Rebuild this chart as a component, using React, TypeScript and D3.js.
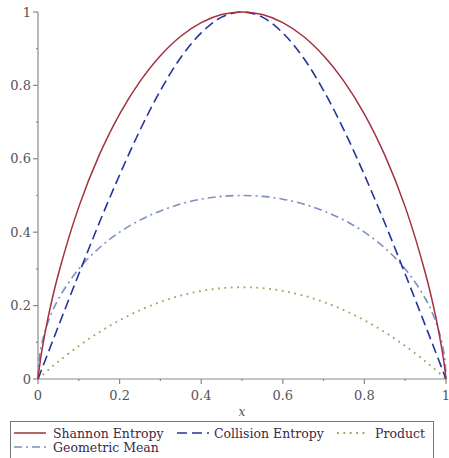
import React from "react";
import * as d3 from "d3";

// values
const xs = [0, 0.0025, 0.01, 0.025, 0.05, 0.1, 0.15, 0.2, 0.25, 0.3, 0.35, 0.4, 0.45, 0.5,
  0.55, 0.6, 0.65, 0.7, 0.75, 0.8, 0.85, 0.9, 0.95, 0.975, 0.99, 0.9975, 1];
const shannon = [0, 0.025, 0.081, 0.169, 0.286, 0.469, 0.61, 0.722, 0.811, 0.881, 0.934, 0.971, 0.993, 1,
  0.993, 0.971, 0.934, 0.881, 0.811, 0.722, 0.61, 0.469, 0.286, 0.169, 0.081, 0.025, 0];
const collision = [0, 0.007, 0.029, 0.072, 0.144, 0.286, 0.425, 0.556, 0.678, 0.786, 0.876, 0.943, 0.986, 1,
  0.986, 0.943, 0.876, 0.786, 0.678, 0.556, 0.425, 0.286, 0.144, 0.072, 0.029, 0.007, 0];
const product = [0, 0.0025, 0.0099, 0.0244, 0.0475, 0.09, 0.1275, 0.16, 0.1875, 0.21, 0.2275, 0.24, 0.2475, 0.25,
  0.2475, 0.24, 0.2275, 0.21, 0.1875, 0.16, 0.1275, 0.09, 0.0475, 0.0244, 0.0099, 0.0025, 0];
const geoMean = [0, 0.05, 0.0995, 0.156, 0.218, 0.3, 0.357, 0.4, 0.433, 0.458, 0.477, 0.49, 0.4975, 0.5,
  0.4975, 0.49, 0.477, 0.458, 0.433, 0.4, 0.357, 0.3, 0.218, 0.156, 0.0995, 0.05, 0];

const majorTicks = [0, 0.2, 0.4, 0.6, 0.8, 1];
const tickLabels = ["0", "0.2", "0.4", "0.6", "0.8", "1"];
const minorTicks = [0.1, 0.3, 0.5, 0.7, 0.9];

const series = [
  { name: "Shannon Entropy", values: shannon, color: "#a3313f", dash: "none", width: 1.5 },
  { name: "Collision Entropy", values: collision, color: "#24349c", dash: "10,5", width: 1.6 },
  { name: "Product", values: product, color: "#8dad57", dash: "1.8,4.6", width: 1.8 },
  { name: "Geometric Mean", values: geoMean, color: "#7d91bf", dash: "8,4,2,4", width: 1.6 },
];

const W = 449, H = 458;
const margin = { top: 12, right: 3, bottom: 79, left: 38 };
const font = "'DejaVu Serif', serif";

export default function App() {
  const x = d3.scaleLinear().domain([0, 1]).range([margin.left, W - margin.right]);
  const y = d3.scaleLinear().domain([0, 1]).range([H - margin.bottom, margin.top]);
  const line = (vals: number[]) =>
    d3.line<number>().x((d, i) => x(xs[i])).y((d) => y(d)).curve(d3.curveCatmullRom)(vals) || "";

  const axisColor = "#8a8a8a";
  const labelColor = "#555";
  const y0 = y(0), x0 = x(0);

  const legendRows = [
    [{ s: series[0], lx: 14, tx: 53 }, { s: series[1], lx: 177, tx: 214 }, { s: series[2], lx: 337, tx: 375 }],
    [{ s: series[3], lx: 14, tx: 53 }],
  ];

  return (
    <svg width={W} height={H} style={{ position: "absolute", left: 0, top: 0, background: "#fff" }}>
      {/* y axis */}
      <line x1={x0} x2={x0} y1={y(1)} y2={y0} stroke={axisColor} strokeWidth={1.2} />
      {majorTicks.map((t, i) => (
        <g key={"y" + t}>
          <line x1={x0 - 5} x2={x0} y1={y(t)} y2={y(t)} stroke={axisColor} strokeWidth={1.2} />
          <text x={x0 - 7} y={y(t) + 4.5} textAnchor="end" fontSize={13} fill={labelColor} fontFamily={font}>
            {tickLabels[i]}
          </text>
        </g>
      ))}
      {minorTicks.map((t) => (
        <line key={"ym" + t} x1={x0 - 2} x2={x0} y1={y(t)} y2={y(t)} stroke={axisColor} strokeWidth={1.2} />
      ))}
      {/* x axis */}
      <line x1={x0} x2={x(1)} y1={y0} y2={y0} stroke={axisColor} strokeWidth={1.2} />
      {majorTicks.map((t, i) => (
        <g key={"x" + t}>
          <line x1={x(t)} x2={x(t)} y1={y0} y2={y0 + 5} stroke={axisColor} strokeWidth={1.2} />
          <text x={x(t)} y={y0 + 21} textAnchor="middle" fontSize={13} fill={labelColor} fontFamily={font}>
            {tickLabels[i]}
          </text>
        </g>
      ))}
      {minorTicks.map((t) => (
        <line key={"xm" + t} x1={x(t)} x2={x(t)} y1={y0} y2={y0 + 2} stroke={axisColor} strokeWidth={1.2} />
      ))}
      <text x={x(0.5)} y={y0 + 37} textAnchor="middle" fontSize={12} fontStyle="italic" fill={labelColor} fontFamily={font}>
        x
      </text>

      {/* curves */}
      {[series[3], series[2], series[1], series[0]].map((s) => (
        <path key={s.name} d={line(s.values)} fill="none" stroke={s.color} strokeWidth={s.width}
          strokeDasharray={s.dash} strokeLinecap="butt" />
      ))}

      {/* legend */}
      <rect x={10.5} y={421.5} width={423} height={40} fill="none" stroke="#777" strokeWidth={1} />
      {legendRows.map((row, r) =>
        row.map(({ s, lx, tx }) => (
          <g key={s.name}>
            <line x1={lx} x2={lx + 32} y1={433 + r * 14} y2={433 + r * 14} stroke={s.color}
              strokeWidth={s.width} strokeDasharray={s.dash} />
            <text x={tx} y={437.5 + r * 14} fontSize={12.5} fill="#3a2a4a" fontFamily={font}>
              {s.name}
            </text>
          </g>
        ))
      )}
    </svg>
  );
}
